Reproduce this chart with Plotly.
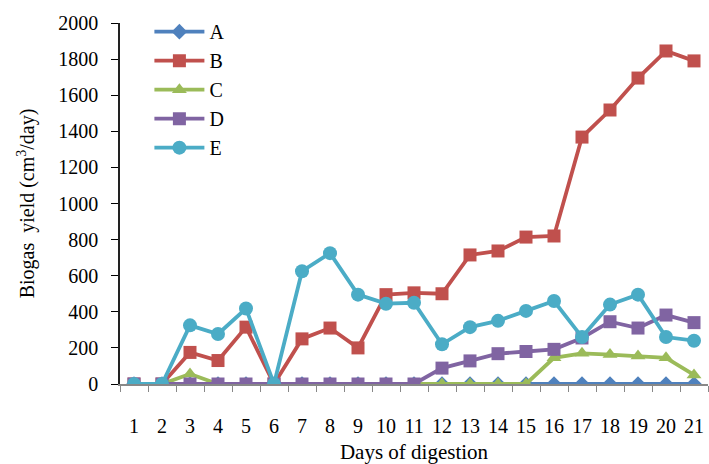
import plotly.graph_objects as go

days = [str(d) for d in range(1, 22)]
A = [0] * 21
B = [0, 0, 175, 130, 315, 0, 250, 310, 200, 495, 505, 500, 715, 737, 814, 820, 1368, 1518, 1695, 1845, 1790]
C = [0, 0, 55, 0, 0, 0, 0, 0, 0, 0, 0, 0, 0, 0, 0, 145, 170, 163, 155, 145, 50]
D = [0, 0, 0, 0, 0, 0, 0, 0, 0, 0, 0, 88, 128, 168, 180, 192, 255, 345, 310, 382, 340]
E = [0, 0, 325, 277, 418, 0, 625, 725, 495, 445, 450, 220, 315, 350, 405, 460, 260, 440, 495, 260, 240]

series = [
    ("A", A, "#4F81BD", "diamond", 12),
    ("B", B, "#C0504D", "square", 13),
    ("C", C, "#9BBB59", "triangle-up", 13),
    ("D", D, "#8064A2", "square", 13),
    ("E", E, "#4BACC6", "circle", 14),
]

fig = go.Figure()
for name, vals, col, sym, sz in series:
    fig.add_trace(go.Scatter(
        x=days, y=vals, name=name, mode="lines+markers", legendgroup=name,
        line=dict(color=col, width=3.8),
        marker=dict(symbol=sym, size=sz, color=col),
    ))

font_family = "Liberation Serif"
fig.update_layout(
    width=709, height=464,
    margin=dict(l=120, r=1, t=23, b=80),
    plot_bgcolor="white", paper_bgcolor="white",
    font=dict(family=font_family, size=20, color="black"),
    legend=dict(x=0.05, y=1.03, xanchor="left", yanchor="top",
                bgcolor="rgba(0,0,0,0)", font=dict(size=20),
                itemwidth=50,
                traceorder="grouped", tracegroupgap=0),
    xaxis=dict(
        type="category", range=[-0.5, 20.5],
        showline=True, linecolor="#888888", linewidth=1.5,
        ticks="outside", tickson="boundaries", ticklen=6, tickcolor="#888888",
        showgrid=False, zeroline=False,
        tickfont=dict(size=20), tickangle=0,
        ticklabelstandoff=23,
        title=dict(text="Days of digestion", standoff=10, font=dict(size=21)),
    ),
    yaxis=dict(
        range=[0, 2000], dtick=200,
        showline=True, linecolor="#222222", linewidth=1.5,
        ticks="outside", ticklen=7, tickcolor="black",
        showgrid=False, zeroline=False,
        tickfont=dict(size=20),
        ticklabelstandoff=9,
        title=dict(text="Biogas  yield (cm<sup>3</sup>/day)", standoff=18, font=dict(size=20)),
    ),
)

fig.write_html("out.html", config={"displayModeBar": False},
               post_script="document.body.style.margin='0';")
